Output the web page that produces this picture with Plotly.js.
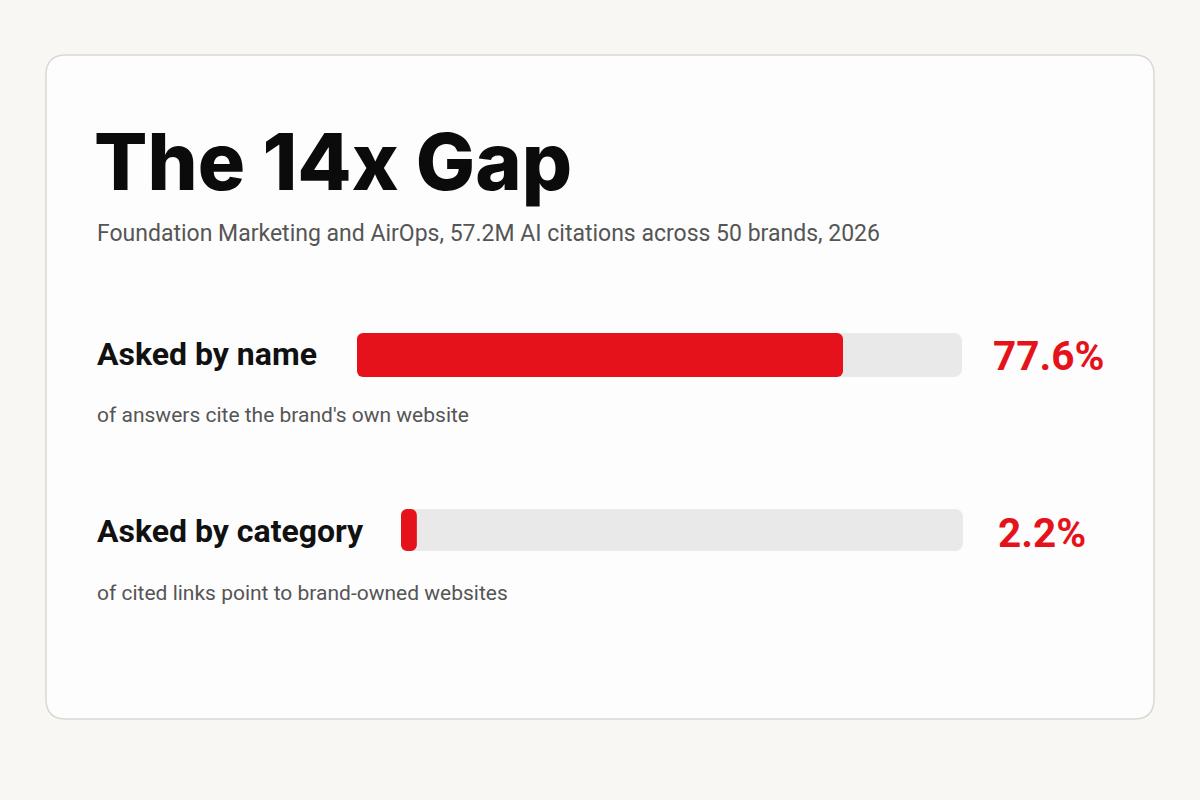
<!DOCTYPE html>
<html>
<head>
<meta charset="utf-8">
<script src="https://cdn.plot.ly/plotly-3.0.1.min.js"></script>
<style>
html,body{margin:0;padding:0;background:#f9f7f3;}
#chart{width:1200px;height:800px;}
</style>
</head>
<body>
<div id="chart"></div>
<script>
// ---- data ----
const categories = ["Asked by name", "Asked by category"];
const descriptions = ["of answers cite the brand's own website", "of cited links point to brand-owned websites"];
const values = [77.6, 2.2];
const valueLabels = ["77.6%", "2.2%"];
const chartTitle = "The 14x Gap";
const chartSubtitle = "Foundation Marketing and AirOps, 57.2M AI citations across 50 brands, 2026";

// ---- layout helpers (pixel -> paper) ----
const W = 1200, H = 800;
const px = x => x / W;
const py = y => 1 - y / H;

const RED = "#e5121b";
const TRACK = "#e9e9e9";

// bar geometry per row (pixels)
const rows = [
  {x0: 357, x1: 962, y0: 333, y1: 377, xmax: 96.6, labelY: 354, descY: 415, valX: 991, valY: 356},
  {x0: 401, x1: 963, y0: 509, y1: 551, xmax: 78,   labelY: 531, descY: 593, valX: 996, valY: 533}
];

const traces = [];
const layout = {
  width: W, height: H,
  margin: {l: 0, r: 0, t: 0, b: 0},
  paper_bgcolor: "#f9f7f3",
  plot_bgcolor: "rgba(0,0,0,0)",
  showlegend: false,
  barmode: "overlay",
  shapes: [],
  annotations: []
};

// card
const cx0 = 46, cx1 = 1154, cy0 = 55, cy1 = 719, r = 20;
function P(x, y) { return px(x).toFixed(5) + "," + py(y).toFixed(5); }
layout.shapes.push({
  type: "path", xref: "paper", yref: "paper", layer: "below",
  path: "M " + P(cx0 + r, cy0) + " L " + P(cx1 - r, cy0) +
        " Q " + P(cx1, cy0) + " " + P(cx1, cy0 + r) +
        " L " + P(cx1, cy1 - r) + " Q " + P(cx1, cy1) + " " + P(cx1 - r, cy1) +
        " L " + P(cx0 + r, cy1) + " Q " + P(cx0, cy1) + " " + P(cx0, cy1 - r) +
        " L " + P(cx0, cy0 + r) + " Q " + P(cx0, cy0) + " " + P(cx0 + r, cy0) + " Z",
  fillcolor: "#fdfdfd",
  line: {color: "#dad8d5", width: 1.5}
});

rows.forEach((g, i) => {
  const n = i === 0 ? "" : String(i + 1);
  const xa = "x" + n, ya = "y" + n;
  // track
  traces.push({
    type: "bar", orientation: "h",
    x: [g.xmax], y: [0], base: 0,
    xaxis: xa, yaxis: ya, width: 1,
    marker: {color: TRACK, cornerradius: 8},
    hoverinfo: "skip"
  });
  // value bar
  traces.push({
    type: "bar", orientation: "h",
    x: [values[i]], y: [0], base: 0,
    xaxis: xa, yaxis: ya, width: 1,
    marker: {color: RED, cornerradius: 6},
    name: categories[i],
    hovertemplate: categories[i] + ": %{x}%<extra></extra>"
  });
  layout["xaxis" + n] = {
    domain: [px(g.x0), px(g.x1)], range: [0, g.xmax],
    visible: false, fixedrange: true, anchor: ya
  };
  layout["yaxis" + n] = {
    domain: [py(g.y1), py(g.y0)], range: [-0.5, 0.5],
    visible: false, fixedrange: true, anchor: xa
  };

  layout.annotations.push({
    xref: "paper", yref: "paper", x: px(95), y: py(g.labelY),
    xanchor: "left", yanchor: "middle", showarrow: false,
    text: categories[i],
    font: {family: "Roboto, Arial, sans-serif", size: 32, color: "#111111", weight: 700}
  });
  layout.annotations.push({
    xref: "paper", yref: "paper", x: px(95), y: py(g.descY),
    xanchor: "left", yanchor: "middle", showarrow: false,
    text: descriptions[i],
    font: {family: "Roboto, Arial, sans-serif", size: 21, color: "#555555"}
  });
  layout.annotations.push({
    xref: "paper", yref: "paper", x: px(g.valX), y: py(g.valY),
    xanchor: "left", yanchor: "middle", showarrow: false,
    text: valueLabels[i],
    font: {family: "Roboto, Arial, sans-serif", size: 40.5, color: RED, weight: 700}
  });
});

layout.annotations.push({
  xref: "paper", yref: "paper", x: px(92), y: py(161),
  xanchor: "left", yanchor: "middle", showarrow: false,
  text: chartTitle,
  font: {family: "Inter, Roboto, Arial, sans-serif", size: 79, color: "#0b0b0b", weight: 800}
});
layout.annotations.push({
  xref: "paper", yref: "paper", x: px(95), y: py(233),
  xanchor: "left", yanchor: "middle", showarrow: false,
  text: chartSubtitle,
  font: {family: "Roboto, Arial, sans-serif", size: 23, color: "#555555"}
});

Plotly.newPlot("chart", traces, layout, {displayModeBar: false, staticPlot: true});
</script>
</body>
</html>
